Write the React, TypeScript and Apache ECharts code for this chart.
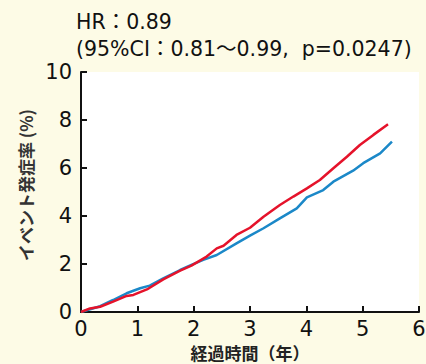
import React, { useEffect, useRef } from "react";
import * as echarts from "echarts";

const redX = [0, 0.16, 0.34, 0.57, 0.81, 0.93, 1.17, 1.46, 1.76, 1.96, 2.23, 2.41, 2.53, 2.76, 3.0, 3.24, 3.53, 3.77, 4.01, 4.24, 4.48, 4.72, 4.95, 5.19, 5.45];
const redY = [0, 0.15, 0.22, 0.43, 0.67, 0.71, 0.94, 1.36, 1.72, 1.93, 2.31, 2.65, 2.76, 3.21, 3.51, 3.97, 4.46, 4.81, 5.15, 5.5, 5.99, 6.47, 6.96, 7.38, 7.82];
const blueX = [0, 0.34, 0.57, 0.81, 1.05, 1.22, 1.46, 1.76, 1.96, 2.17, 2.41, 2.76, 3.0, 3.24, 3.53, 3.83, 4.01, 4.3, 4.48, 4.83, 5.01, 5.31, 5.52];
const blueY = [0, 0.24, 0.5, 0.78, 0.99, 1.1, 1.4, 1.75, 1.96, 2.17, 2.375, 2.86, 3.18, 3.49, 3.9, 4.32, 4.78, 5.08, 5.43, 5.89, 6.2, 6.61, 7.1];
const titleLines = ["HR：0.89", "(95%CI：0.81～0.99,  p=0.0247)"];
const xName = "経過時間（年）";
const yName = "イベント発症率 (%)";

export default function App() {
  const ref = useRef<HTMLDivElement>(null);
  useEffect(() => {
    const chart = echarts.init(ref.current!, null, { renderer: "svg" });
    const font = "'DejaVu Sans', 'Noto Sans CJK JP', sans-serif";
    const cjk = "'Noto Sans CJK JP', sans-serif";
    chart.setOption({
      animation: false,
      backgroundColor: "#FDFBE6",
      title: {
        text: titleLines.join("\n"),
        left: 76,
        top: 8,
        padding: 0,
        textStyle: { fontFamily: font, fontSize: 20.5, fontWeight: "normal", color: "#111", lineHeight: 27 },
      },
      grid: {
        left: 81,
        right: 7,
        top: 72,
        bottom: 52,
        containLabel: false,
        outerBoundsMode: "none",
        show: true,
        backgroundColor: "#fff",
        borderWidth: 0,
      },
      xAxis: {
        type: "value",
        min: 0,
        max: 6,
        interval: 1,
        name: xName,
        nameLocation: "middle",
        nameGap: 32,
        nameTextStyle: { fontFamily: cjk, fontSize: 17, fontWeight: "bold", color: "#222" },
        axisLine: { onZero: false, lineStyle: { color: "#111", width: 2 } },
        axisTick: { inside: true, length: 6, lineStyle: { color: "#111", width: 2 } },
        axisLabel: { fontFamily: font, fontSize: 21, color: "#111", margin: 6 },
        splitLine: { show: false },
      },
      yAxis: {
        type: "value",
        min: 0,
        max: 10,
        interval: 2,
        name: yName,
        nameLocation: "middle",
        nameRotate: 90,
        nameGap: 46,
        nameTextStyle: { fontFamily: cjk, fontSize: 17, fontWeight: "bold", color: "#333", padding: [0, 0, 0, 14] },
        axisLine: { lineStyle: { color: "#111", width: 2 } },
        axisTick: { inside: true, length: 6, lineStyle: { color: "#111", width: 2 } },
        axisLabel: { fontFamily: font, fontSize: 21, color: "#111", margin: 9 },
        splitLine: { show: false },
      },
      series: [
        {
          type: "line",
          data: blueX.map((x, i) => [x, blueY[i]]),
          showSymbol: false,
          lineStyle: { color: "#1B88C8", width: 2.5 },
        },
        {
          type: "line",
          data: redX.map((x, i) => [x, redY[i]]),
          showSymbol: false,
          lineStyle: { color: "#E5132B", width: 2.5 },
        },
      ],
    });
    return () => chart.dispose();
  }, []);
  return <div ref={ref} style={{ width: 426, height: 364, position: "absolute", left: 0, top: 0 }} />;
}
